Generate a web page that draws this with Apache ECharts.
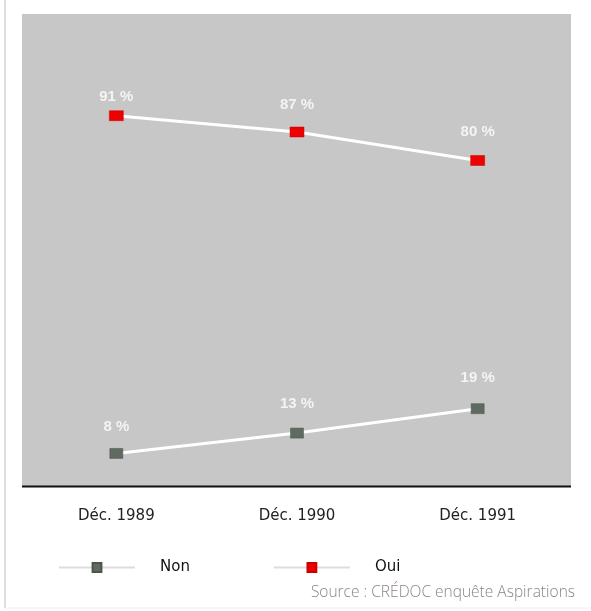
<!DOCTYPE html>
<html>
<head>
<meta charset="utf-8">
<script src="https://cdn.jsdelivr.net/npm/echarts@6/dist/echarts.min.js"></script>
<style>
  html, body { margin: 0; padding: 0; background: #fff; }
  #chart { width: 591px; height: 611px; }
</style>
</head>
<body>
<div id="chart"></div>
<script>
// Survey periods and answer shares (%)
const periods = ['Déc. 1989', 'Déc. 1990', 'Déc. 1991'];
const ouiValues = [91, 87, 80];
const nonValues = [8, 13, 19];
const sourceText = 'Source : CRÉDOC enquête Aspirations';

// Extra label lift per point (pixels), purely typographic
const ouiLabelGap = [6, 14, 16];
const nonLabelGap = [14, 17, 18];

const chart = echarts.init(document.getElementById('chart'));

function points(values, gaps) {
  return values.map((v, i) => ({
    value: v,
    label: { distance: gaps[i] }
  }));
}

const labelStyle = {
  show: true,
  position: 'top',
  color: '#f4f4f4',
  fontFamily: 'Liberation Sans, Arial, sans-serif',
  fontSize: 15,
  fontWeight: 'bold',
  formatter: p => p.value + ' %'
};

chart.setOption({
  animation: false,
  backgroundColor: '#ffffff',
  grid: {
    left: 26, right: 23, top: 14, bottom: 125,
    show: false
  },
  xAxis: {
    type: 'category',
    data: periods,
    boundaryGap: true,
    axisLine: { show: false },
    axisTick: { show: false },
    axisLabel: {
      color: '#222',
      fontFamily: 'DejaVu Sans, sans-serif',
      fontSize: 15,
      margin: 23
    }
  },
  yAxis: {
    type: 'value',
    min: 0,
    max: 116,
    show: false,
    splitLine: { show: false }
  },
  legend: {
    left: 58,
    top: 560,
    padding: 0,
    itemWidth: 76,
    itemHeight: 11,
    itemGap: 83,
    textStyle: {
      color: '#111',
      fontFamily: 'DejaVu Sans, sans-serif',
      fontSize: 15,
      padding: [0, 0, 0, 20]
    },
    lineStyle: { color: '#dddddd', width: 2 },
    data: ['Non', 'Oui']
  },
  graphic: [
    // grey panel behind the plot
    {
      type: 'rect',
      z: -10,
      shape: { x: 22, y: 14, width: 549, height: 472 },
      style: { fill: '#c7c7c7' }
    },
    // baseline under the panel
    {
      type: 'line',
      z: 10,
      shape: { x1: 22, y1: 486.5, x2: 571, y2: 486.5 },
      style: { stroke: '#111', lineWidth: 2 }
    },
    {
      type: 'line',
      shape: { x1: 5, y1: 0, x2: 5, y2: 608 },
      style: { stroke: '#dedede', lineWidth: 2 }
    },
    {
      type: 'line',
      shape: { x1: 5, y1: 608, x2: 591, y2: 608 },
      style: { stroke: '#eeeeee', lineWidth: 1 }
    },
    {
      type: 'text',
      right: 16,
      top: 585,
      style: {
        text: sourceText,
        fill: '#8e8282',
        font: '300 15.5px "Open Sans", "Liberation Sans", sans-serif'
      }
    }
  ],
  series: [
    {
      name: 'Non',
      type: 'line',
      data: points(nonValues, nonLabelGap),
      symbol: 'rect',
      symbolSize: [13, 10],
      lineStyle: { color: '#ffffff', width: 3 },
      itemStyle: { color: '#5f6a60', borderColor: '#4c544c', borderWidth: 0.5 },
      label: labelStyle,
      z: 3
    },
    {
      name: 'Oui',
      type: 'line',
      data: points(ouiValues, ouiLabelGap),
      symbol: 'rect',
      symbolSize: [14, 10],
      lineStyle: { color: '#ffffff', width: 3 },
      itemStyle: { color: '#ee0000', borderColor: '#cc0000', borderWidth: 0.5 },
      label: labelStyle,
      z: 3
    }
  ]
});
</script>
</body>
</html>
